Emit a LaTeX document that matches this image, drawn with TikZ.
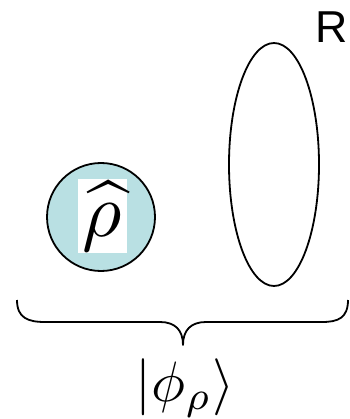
\documentclass[tikz,border=0pt]{standalone}
\usepackage{fontspec}
\usetikzlibrary{positioning,calc,shapes.geometric}
\newfontfamily\labelfont{Liberation Sans}
\definecolor{statecyan}{HTML}{B9E0E3}

\tikzset{
    outline/.style={draw=black, line width=1.8pt},
    bigmath/.style={inner sep=0pt, scale=#1},
}

\begin{document}
\begin{tikzpicture}[x=1pt, y=-1pt]
    \useasboundingbox (0,0) rectangle (349,419);

    % system and reference
    \node[outline, circle, fill=statecyan, minimum size=108pt, inner sep=0pt] (sys) at (101,217) {};
    \node[bigmath=7.6, fill=white, minimum width=6.45pt, minimum height=9.74pt] (rho) at (102.5,216) {$\widehat{\rho}$};
    \node[outline, ellipse, minimum width=90pt, minimum height=243pt, inner sep=0pt] (ref) at (274,164.5) {};
    \node[anchor=north east, inner sep=0pt] (reflabel) at (348,12) {\labelfont\fontsize{44.7}{54}\selectfont R};

    % brace under both
    \coordinate (braceL) at (17,300);
    \coordinate (braceR) at (348,300);
    \coordinate (braceTip) at (183,345);
    \draw[line width=1.8pt, line join=round]
        (braceL) .. controls (17,318) and (28,322) .. (45,322)
        -- (160,322) .. controls (175,322) and (183,330) .. (braceTip)
        .. controls (183,330) and (191,322) .. (206,322)
        -- (322,322) .. controls (338,322) and (348,318) .. (braceR);

    \node[bigmath=5.7] (ket) at (185,388) {$|\phi_\rho\rangle$};
\end{tikzpicture}
\end{document}
